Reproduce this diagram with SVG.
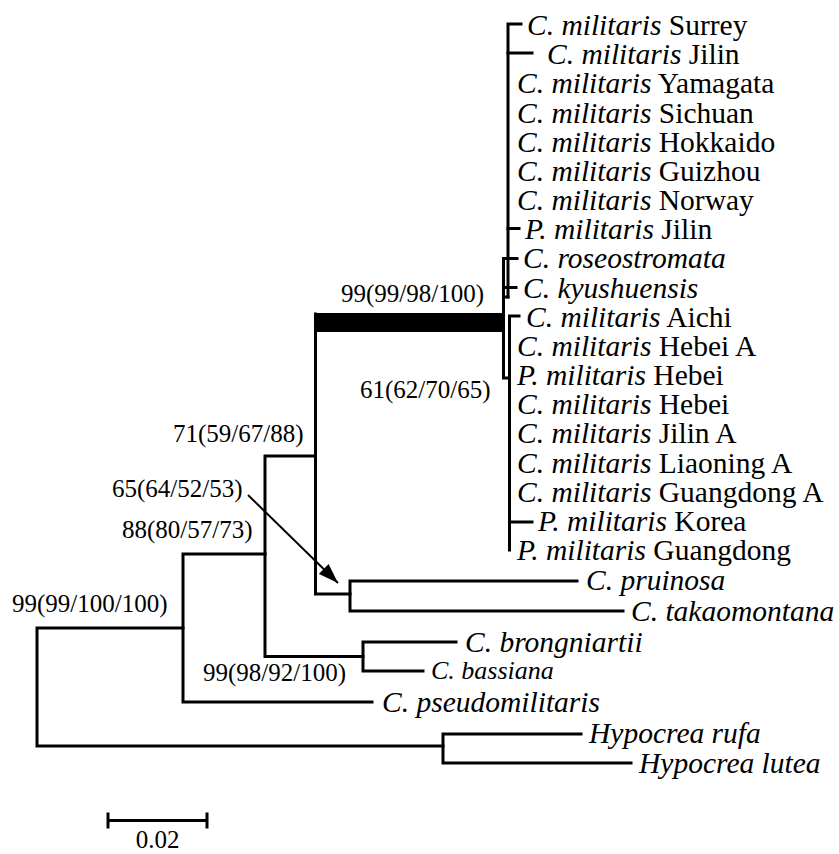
<svg xmlns="http://www.w3.org/2000/svg" width="839" height="854" viewBox="0 0 839 854">
<defs>
<style>
.t{font-family:"Liberation Serif","Times New Roman",serif;font-size:29.5px;fill:#000}
.s{font-family:"Liberation Serif","Times New Roman",serif;font-size:25px;fill:#000}
.i{font-style:italic}
.ln{fill:none;stroke:#000;stroke-width:3;stroke-linecap:square;stroke-linejoin:miter}
.ar{fill:none;stroke:#000;stroke-width:2}
</style>
<marker id="ah" viewBox="0 0 20 14" refX="20" refY="7" markerWidth="20" markerHeight="14" markerUnits="userSpaceOnUse" orient="auto"><path d="M0,0 L20,7 L0,14 z" fill="#000"/></marker>
</defs>
<rect width="839" height="854" fill="#fff"/>
<g id="connectors">
<path class="ln" d="M521,24 H508 V297"/>
<path class="ln" d="M508,53 H532"/>
<path class="ln" d="M508,228.5 H519"/>
<path class="ln" d="M517,258.5 H503.5 V378 H509.5"/>
<path class="ln" d="M503.5,287.5 H516"/>
<path class="ln" d="M503.5,297 H508"/>
<path class="ln" d="M519,316 H509.5 V550"/>
<path class="ln" d="M509.5,522 H532"/>
<rect x="314" y="313" width="190" height="19" fill="#000"/>
<path class="ln" d="M315.5,314 V594 H350"/>
<path class="ln" d="M577,581 H350 V611 H623"/>
<path class="ln" d="M315.5,456 H265 V656.5 H363"/>
<path class="ln" d="M456,642 H363 V671 H423"/>
<path class="ln" d="M265,554 H183 V702 H372"/>
<path class="ln" d="M183,628 H37 V746 H443"/>
<path class="ln" d="M581,734 H443 V763 H631"/>
<path class="ln" d="M108,820.5 H207 M108,814 V827 M207,814 V827"/>
<line class="ar" x1="248" y1="495" x2="338" y2="583" marker-end="url(#ah)"/>
</g>
<g id="leaves">
<g id="n-surrey"><text class="t" x="527" y="35"><tspan class="i">C. militaris</tspan> Surrey</text></g>
<g id="n-jilin"><text class="t" x="547" y="64"><tspan class="i">C. militaris</tspan> Jilin</text></g>
<g id="n-yamagata"><text class="t" x="517" y="93"><tspan class="i">C. militaris</tspan> Yamagata</text></g>
<g id="n-sichuan"><text class="t" x="517" y="122.5"><tspan class="i">C. militaris</tspan> Sichuan</text></g>
<g id="n-hokkaido"><text class="t" x="517" y="151.7"><tspan class="i">C. militaris</tspan> Hokkaido</text></g>
<g id="n-guizhou"><text class="t" x="517" y="180.9"><tspan class="i">C. militaris</tspan> Guizhou</text></g>
<g id="n-norway"><text class="t" x="517" y="210"><tspan class="i">C. militaris</tspan> Norway</text></g>
<g id="n-pjilin"><text class="t" x="525" y="239.2"><tspan class="i">P. militaris</tspan> Jilin</text></g>
<g id="n-roseo"><text class="t i" x="523" y="268.4">C. roseostromata</text></g>
<g id="n-kyushu"><text class="t i" x="523" y="297.5">C. kyushuensis</text></g>
<g id="n-aichi"><text class="t" x="526" y="326.7"><tspan class="i">C. militaris</tspan> Aichi</text></g>
<g id="n-hebeia"><text class="t" x="517" y="355.9"><tspan class="i">C. militaris</tspan> Hebei A</text></g>
<g id="n-phebei"><text class="t" x="517" y="385"><tspan class="i">P. militaris</tspan> Hebei</text></g>
<g id="n-hebei"><text class="t" x="517" y="414.2"><tspan class="i">C. militaris</tspan> Hebei</text></g>
<g id="n-jilina"><text class="t" x="517" y="443.4"><tspan class="i">C. militaris</tspan> Jilin A</text></g>
<g id="n-liaoning"><text class="t" x="517" y="472.5"><tspan class="i">C. militaris</tspan> Liaoning A</text></g>
<g id="n-guangdonga"><text class="t" x="517" y="501.7"><tspan class="i">C. militaris</tspan> Guangdong A</text></g>
<g id="n-pkorea"><text class="t" x="538" y="530.9"><tspan class="i">P. militaris</tspan> Korea</text></g>
<g id="n-pguangdong"><text class="t" x="517" y="560"><tspan class="i">P. militaris</tspan> Guangdong</text></g>
<g id="n-pruinosa"><text class="t i" x="586" y="590">C. pruinosa</text></g>
<g id="n-takao"><text class="t i" x="631" y="621">C. takaomontana</text></g>
<g id="n-brong"><text class="t i" x="465" y="651.5">C. brongniartii</text></g>
<g id="n-bass"><text class="s i" x="431" y="679" style="font-size:26px">C. bassiana</text></g>
<g id="n-pseudo"><text class="t i" x="382" y="711.5">C. pseudomilitaris</text></g>
<g id="n-rufa"><text class="t i" x="589" y="743">Hypocrea rufa</text></g>
<g id="n-lutea"><text class="t i" x="639" y="772.5">Hypocrea lutea</text></g>
</g>
<g id="support">
<g id="b-militaris"><text class="s" x="341" y="302">99(99/98/100)</text></g>
<g id="b-lower"><text class="s" x="360" y="398">61(62/70/65)</text></g>
<g id="b-71"><text class="s" x="173" y="442">71(59/67/88)</text></g>
<g id="b-65"><text class="s" x="112" y="497">65(64/52/53)</text></g>
<g id="b-88"><text class="s" x="122" y="538">88(80/57/73)</text></g>
<g id="b-root"><text class="s" x="12" y="612">99(99/100/100)</text></g>
<g id="b-brong"><text class="s" x="203" y="681">99(98/92/100)</text></g>
</g>
<g id="scale"><text class="s" x="157.5" y="848" text-anchor="middle">0.02</text></g>
</svg>
